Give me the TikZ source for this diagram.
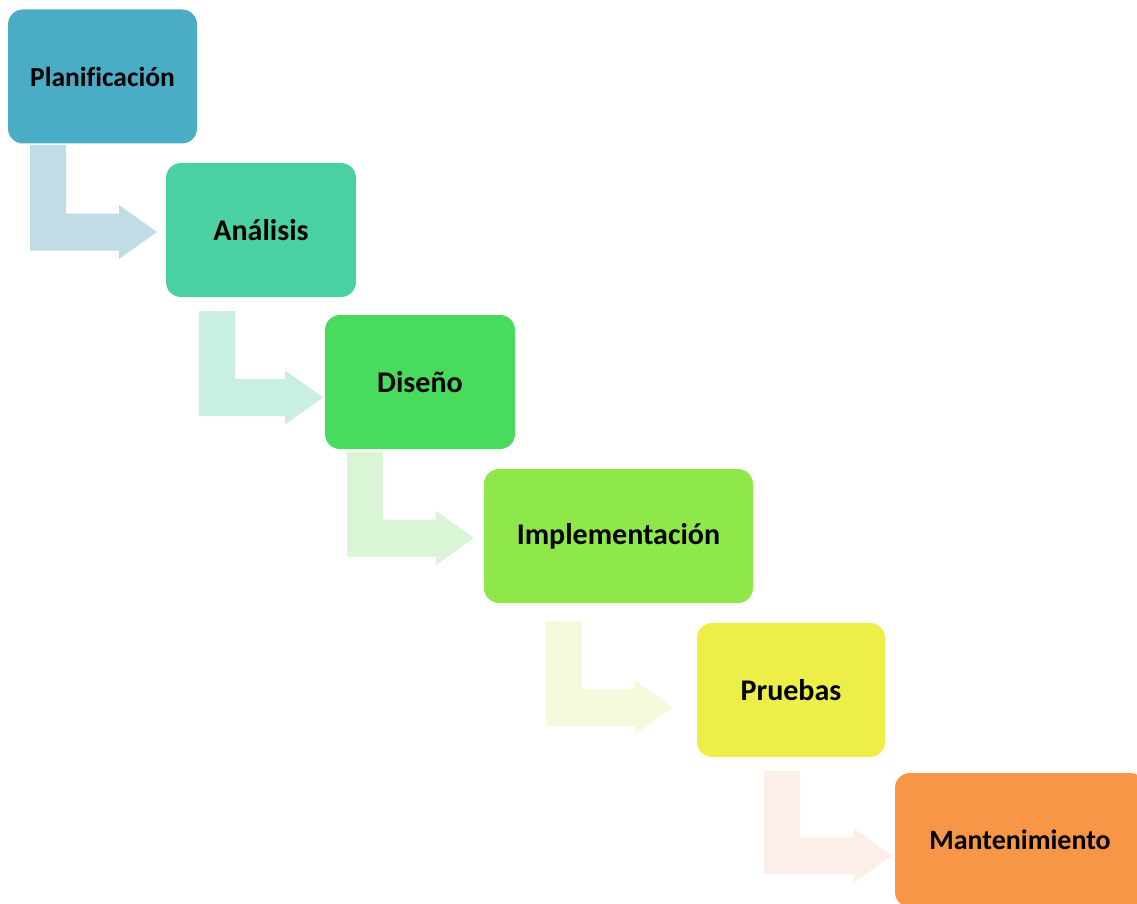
\documentclass[tikz,border=0pt]{standalone}
\usepackage{fontspec}
\setmainfont{Carlito}[Ligatures=CommonOff]
\definecolor{cA}{HTML}{4BACC6}
\definecolor{cB}{HTML}{4BD0A2}
\definecolor{cC}{HTML}{48DB5D}
\definecolor{cD}{HTML}{8EE84A}
\definecolor{cE}{HTML}{EEEE48}
\definecolor{cF}{HTML}{F79646}
\definecolor{aA}{HTML}{C2DCE5}
\definecolor{aB}{HTML}{C8EFE0}
\definecolor{aC}{HTML}{DAF5D6}
\definecolor{aD}{HTML}{F7F9DD}
\definecolor{aE}{HTML}{FCEEE8}
\tikzset{
  phase/.style={rounded corners=15pt, minimum height=134pt, inner sep=0pt,
    font=\fontsize{30}{34}\selectfont\bfseries, text=black},
}
% bent arrow: #1 colour, #2 left x, #3 top y, #4 tip y, #5 tip x
\newcommand\bentarrow[5]{%
  \fill[#1] (#2,#3) -- ++(36,0) -- (#2+36,#4-18.5) -- (#5-38,#4-18.5)
    -- (#5-38,#4-27) -- (#5,#4) -- (#5-38,#4+27) -- (#5-38,#4+18.5)
    -- (#2,#4+18.5) -- cycle;}
\begin{document}
\begin{tikzpicture}[x=1pt,y=-1pt]
\useasboundingbox (0,0) rectangle (1137,904);
\clip (0,0) rectangle (1137,904);
\bentarrow{aA}{30}{145}{232}{157}
\bentarrow{aB}{199}{311}{397.5}{323}
\bentarrow{aC}{347}{452}{538}{474}
\bentarrow{aD}{546}{621}{707.5}{673}
\bentarrow{aE}{764}{771}{855.5}{892}
\node[phase, fill=cA, minimum width=189pt, font=\fontsize{27.5}{31}\selectfont\bfseries] (p1) at (102.5,76.5) {Planificación};
\node[phase, fill=cB, minimum width=190pt] (p2) at (261,230) {Análisis};
\node[phase, fill=cC, minimum width=190pt] (p3) at (420,382) {Diseño};
\node[phase, fill=cD, minimum width=269pt] (p4) at (618.5,536) {Implementación};
\node[phase, fill=cE, minimum width=188pt] (p5) at (791,690) {Pruebas};
\node[phase, fill=cF, minimum width=250pt, font=\fontsize{28}{32}\selectfont\bfseries] (p6) at (1020,840) {Mantenimiento};
\end{tikzpicture}
\end{document}
